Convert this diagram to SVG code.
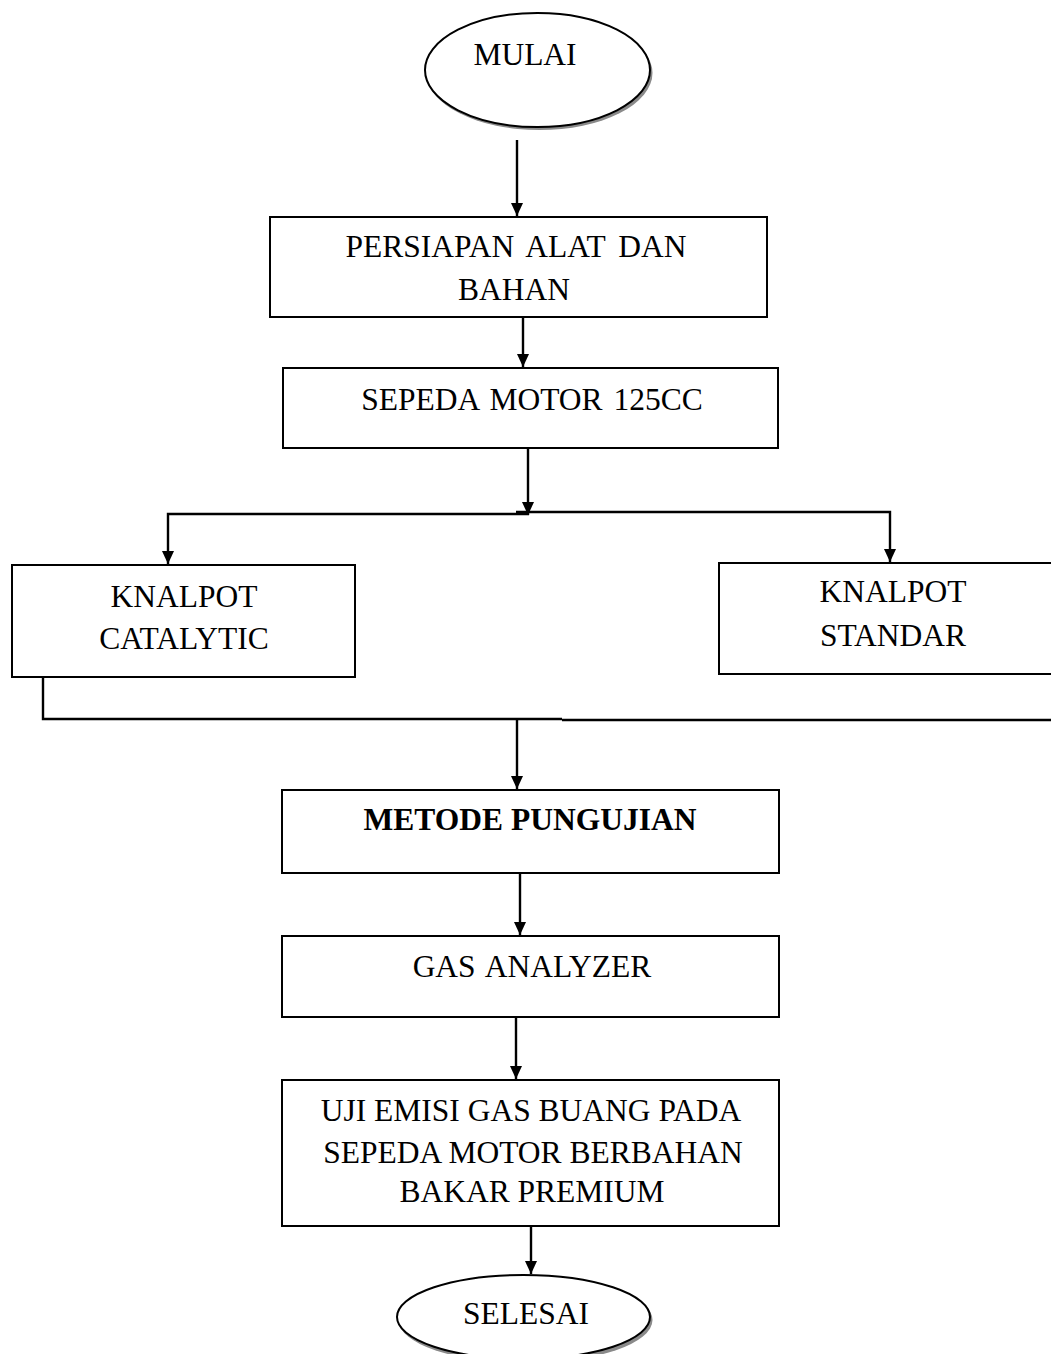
<svg xmlns="http://www.w3.org/2000/svg" width="1051" height="1354" viewBox="0 0 1051 1354">
<defs>
<style>
.box{fill:#fff;stroke:#000;stroke-width:2}
.shadow{fill:#8a8a8a;stroke:none}
.term{fill:#fff;stroke:#000;stroke-width:2}
.t{font-family:"Liberation Serif","Times New Roman",serif;font-size:31.5px;fill:#000;text-anchor:middle}
.b{font-weight:bold}
.ln{fill:none;stroke:#000;stroke-width:2.4}
</style>
<marker id="ah" viewBox="0 0 13 12" refX="13" refY="6" markerWidth="13" markerHeight="12" markerUnits="userSpaceOnUse" orient="auto">
<path d="M0,0 L13,6 L0,12 Z" fill="#000"/>
</marker>
</defs>
<rect width="1051" height="1354" fill="#fff"/>
<g id="connectors">
<line class="ln" x1="517" y1="140" x2="517" y2="216" marker-end="url(#ah)"/>
<line class="ln" x1="523" y1="317" x2="523" y2="367" marker-end="url(#ah)"/>
<line class="ln" x1="528" y1="448" x2="528" y2="515" marker-end="url(#ah)"/>
<polyline class="ln" points="529,514 168,514 168,564" marker-end="url(#ah)"/>
<polyline class="ln" points="516,512 890,512 890,562" marker-end="url(#ah)"/>
<polyline class="ln" points="43,677 43,719 562,719"/>
<line class="ln" x1="562" y1="720" x2="1051" y2="720"/>
<line class="ln" x1="517" y1="719" x2="517" y2="789" marker-end="url(#ah)"/>
<line class="ln" x1="520" y1="868" x2="520" y2="935" marker-end="url(#ah)"/>
<line class="ln" x1="516" y1="1015" x2="516" y2="1079" marker-end="url(#ah)"/>
<line class="ln" x1="531" y1="1220" x2="531" y2="1274" marker-end="url(#ah)"/>
</g>
<g id="mulai">
<ellipse class="shadow" cx="539.5" cy="73" rx="113" ry="57"/>
<ellipse class="term" cx="537.5" cy="70" rx="112.5" ry="57"/>
<text class="t" x="525" y="65">MULAI</text>
</g>
<g id="persiapan">
<rect class="box" x="270" y="217" width="497" height="100"/>
<text class="t" x="516" y="257" word-spacing="5">PERSIAPAN ALAT DAN</text>
<text class="t" x="514" y="300">BAHAN</text>
</g>
<g id="sepeda">
<rect class="box" x="283" y="368" width="495" height="80"/>
<text class="t" x="532" y="410" word-spacing="3">SEPEDA MOTOR 125CC</text>
</g>
<g id="catalytic">
<rect class="box" x="12" y="565" width="343" height="112"/>
<text class="t" x="184" y="607">KNALPOT</text>
<text class="t" x="184" y="649">CATALYTIC</text>
</g>
<g id="standar">
<rect class="box" x="719" y="563" width="340" height="111"/>
<text class="t" x="893" y="602">KNALPOT</text>
<text class="t" x="893" y="646">STANDAR</text>
</g>
<g id="metode">
<rect class="box" x="282" y="790" width="497" height="83"/>
<text class="t b" x="530" y="830">METODE PUNGUJIAN</text>
</g>
<g id="gas">
<rect class="box" x="282" y="936" width="497" height="81"/>
<text class="t" x="532" y="977" word-spacing="3">GAS ANALYZER</text>
</g>
<g id="uji">
<rect class="box" x="282" y="1080" width="497" height="146"/>
<text class="t" x="531" y="1121">UJI EMISI GAS BUANG PADA</text>
<text class="t" x="533" y="1163">SEPEDA MOTOR BERBAHAN</text>
<text class="t" x="532" y="1202">BAKAR PREMIUM</text>
</g>
<g id="selesai">
<ellipse class="shadow" cx="525.5" cy="1320" rx="127" ry="43"/>
<ellipse class="term" cx="523.5" cy="1317" rx="126.5" ry="42"/>
<text class="t" x="526" y="1324">SELESAI</text>
</g>
</svg>
